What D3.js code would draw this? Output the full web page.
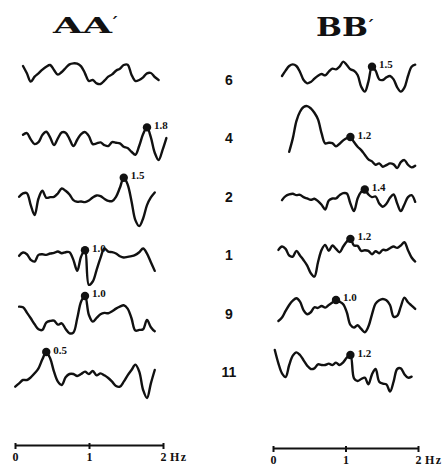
<!DOCTYPE html>
<html>
<head>
<meta charset="utf-8">
<script src="https://cdn.jsdelivr.net/npm/d3@7"></script>
<style>
  html, body { margin: 0; padding: 0; background: #fff; }
  svg { display: block; }
</style>
</head>
<body>
<script>
// Row labels (recording number), top to bottom
const rows = ["6", "4", "2", "1", "9", "11"];
// Spectral estimates are spaced 0.05 Hz apart
const step = 0.05;
const freqTicks = [0, 1, 2];

// Section AA´ : first frequency of each spectrum and relative power values
const aaStart = [0.20, 0.20, 0.15, 0.15, 0.15, 0.10];
const aa6  = [36, 14, -11, 4, 14, 25, 34, 39, 24, 10, 18, 30, 41, 44, 43, 35, 14, -9, -6, -16, -18, -8, 4, 11, 22, 28, 39, 40, 10, -9, -6, 2, 14, 15, 3, -6];
const aa4  = [5, 10, -9, -23, -17, 4, 14, -3, -26, -6, 12, 11, -8, -29, -10, 7, 13, 1, -23, -21, -18, -26, -29, -17, -19, -21, -31, -35, -46, -55, -28, 7, 27, -3, -49, -71, -41, -5];
const aa2  = [-6, 4, 5, -31, -61, -11, 12, -9, -7, -6, 4, 19, 12, 1, -16, -21, -20, -22, -17, -8, -2, -4, -12, -18, -19, -6, 21, 51, 31, -19, -76, -94, -71, -31, -8, 7];
const aa1  = [-8, 2, -3, -20, -25, -5, -3, -5, -1, 1, 5, 0, 3, 3, -20, -53, -10, 9, -95, -85, -50, -14, 14, 5, 3, -1, -9, -13, -11, -9, -5, 3, 14, -1, -27, -53];
const aa9  = [15, 13, -3, -20, -38, -53, -55, -33, -28, -27, -39, -35, -52, -65, -63, -20, 30, 47, -10, -30, -19, -8, -4, -5, 1, 9, 15, 19, 9, -20, -57, -55, -53, -25, -47, -59];
const aa11 = [-50, -40, -30, -30, -22, -10, 5, 32, 54, 35, -5, -35, -45, -22, -12, -12, -18, -12, -5, -12, -3, -16, -10, -16, -24, -35, -48, -50, -35, -16, 0, 16, -5, -60, -84, -40, 0];
// Dominant peak frequency (Hz) marked on each spectrum
const aaPeak = [null, 1.8, 1.5, 1.0, 1.0, 0.5];

// Section BB´
const bbStart = [0.25, 0.35, 0.25, 0.20, 0.20, 0.15];
const bb6  = [6, 22, 36, 41, 36, 18, -6, -16, -12, -2, 7, 12, 8, 19, 28, 26, 34, 49, 39, 26, 22, 9, -26, -41, -11, 34, 22, -4, -6, 2, 6, -4, -28, -41, -29, 6, 34, 40];
const bb4  = [-46, -6, 46, 74, 88, 91, 84, 71, 51, 9, -21, -19, -20, -30, -22, -12, -5, -2, -17, -31, -41, -55, -69, -75, -85, -81, -91, -86, -81, -84, -95, -77, -71, -85, -93, -88];
const bb2  = [-16, -4, 1, 3, -1, 0, -7, -11, -15, -12, -19, -30, -44, -17, -11, -11, -1, 5, 4, -26, -49, -11, 9, 16, 1, -7, -5, -26, -36, -27, -9, 1, -26, -49, -29, -7, -1, -21];
const bb1  = [10, 20, 13, -7, -10, 7, -7, -21, -37, -60, -70, -27, 10, 25, 7, 23, 13, 3, 20, 35, 43, 23, 22, 7, 9, 7, -3, 6, 0, 10, 9, 15, 20, 16, 23, 33, 9, -13, -25];
const bb9  = [-28, -18, 2, 20, 33, 40, 30, 4, -8, -2, 13, 11, 17, 12, 20, 27, 35, 30, 22, -2, -40, -48, -41, -52, -62, -45, -8, 24, 34, 38, 34, 20, -15, -13, 15, 42, 28, 18, 8];
const bb11 = [60, 20, -10, -21, 15, 43, 53, 45, 29, 13, 3, 5, 17, 15, 15, 19, 15, 22, 15, 23, 37, 45, -25, -33, -27, -23, -43, -13, 3, -35, -41, -43, -65, -35, 3, 5, -13, -23, -20];
const bbPeak = [1.5, 1.2, 1.4, 1.2, 1.0, 1.2];

const W = 443, H = 469;
const svg = d3.select("body").append("svg")
  .attr("width", W).attr("height", H)
  .attr("viewBox", `0 0 ${W} ${H}`);

svg.append("rect").attr("width", W).attr("height", H).attr("fill", "#fff");

// Vertical placement of each row and the power scale within a row
const rowY = d3.scalePoint().domain(rows).range([78, 370]);
const power = d3.scaleLinear().domain([-150, 150]).range([50, -50]);

const columns = [
  {
    title: "AA", start: aaStart, traces: [aa6, aa4, aa2, aa1, aa9, aa11], peaks: aaPeak,
    x: d3.scaleLinear().domain([0, 2]).range([7.5, 162.5]),
    axisX: d3.scaleLinear().domain([0, 2]).range([15, 163]),
    axisY: 445, titleX: 53, titleW: 59, titleY: 33, titleSize: 22
  },
  {
    title: "BB", start: bbStart, traces: [bb6, bb4, bb2, bb1, bb9, bb11], peaks: bbPeak,
    x: d3.scaleLinear().domain([0, 2]).range([264, 408]),
    axisX: d3.scaleLinear().domain([0, 2]).range([273, 418]),
    axisY: 448, titleX: 316, titleW: 52, titleY: 36, titleSize: 26
  }
];

const ink = "#111";

columns.forEach(col => {
  // Column heading with prime mark
  svg.append("text")
    .attr("x", col.titleX).attr("y", col.titleY)
    .attr("textLength", col.titleW).attr("lengthAdjust", "spacingAndGlyphs")
    .attr("font-family", "DejaVu Serif, serif").attr("font-weight", "bold")
    .attr("font-size", col.titleSize).attr("fill", ink)
    .text(col.title);
  svg.append("text")
    .attr("x", col.titleX + col.titleW - 2).attr("y", col.titleY - 4)
    .attr("font-family", "DejaVu Serif, serif").attr("font-weight", "bold")
    .attr("font-size", 17).attr("fill", ink)
    .text("\u00B4");

  col.traces.forEach((vals, i) => {
    const row = rows[i];
    const pts = vals.map((a, k) => ({ f: col.start[i] + k * step, a }));
    const line = d3.line()
      .x(d => col.x(d.f))
      .y(d => rowY(row) + power(d.a))
      .curve(d3.curveCatmullRom.alpha(0.5));

    svg.append("path")
      .datum(pts)
      .attr("d", line)
      .attr("fill", "none")
      .attr("stroke", ink)
      .attr("stroke-width", 2.4)
      .attr("stroke-linejoin", "round")
      .attr("stroke-linecap", "round");

    const pf = col.peaks[i];
    if (pf != null) {
      const p = pts[Math.round((pf - col.start[i]) / step)];
      const cx = col.x(p.f), cy = rowY(row) + power(p.a);
      svg.append("circle").attr("cx", cx).attr("cy", cy).attr("r", 4.2).attr("fill", ink);
      svg.append("text")
        .attr("x", cx + 7).attr("y", cy - 2.5)
        .attr("dominant-baseline", "central")
        .attr("font-family", "Liberation Serif, serif").attr("font-weight", "bold")
        .attr("font-size", 11).attr("fill", ink)
        .text(d3.format(".1f")(pf));
    }
  });

  // Frequency axis
  const axis = d3.axisBottom(col.axisX)
    .tickValues(freqTicks)
    .tickSize(4).tickSizeOuter(0).tickPadding(3)
    .tickFormat(d3.format("d"));
  const g = svg.append("g")
    .attr("transform", `translate(0,${col.axisY})`)
    .call(axis);
  g.select(".domain").attr("stroke", ink).attr("stroke-width", 2);
  g.selectAll(".tick line").attr("stroke", ink).attr("stroke-width", 2).attr("y1", -2);
  g.selectAll(".tick text")
    .attr("font-family", "Liberation Serif, serif").attr("font-weight", "bold")
    .attr("font-size", 12).attr("fill", ink);
  g.append("text")
    .attr("x", col.axisX(2) + 7).attr("y", 7).attr("dy", "0.71em")
    .attr("font-family", "Liberation Serif, serif").attr("font-weight", "bold")
    .attr("font-size", 12).attr("letter-spacing", 1.5).attr("fill", ink)
    .attr("text-anchor", "start")
    .text("Hz");
});

// Row labels between the two columns
svg.selectAll("text.row")
  .data(rows)
  .join("text")
  .attr("class", "row")
  .attr("x", 229).attr("y", d => rowY(d) + 2)
  .attr("text-anchor", "middle").attr("dominant-baseline", "central")
  .attr("font-family", "Liberation Sans, Arial, sans-serif").attr("font-weight", "bold")
  .attr("font-size", 14).attr("fill", ink)
  .text(d => d);
</script>
</body>
</html>
